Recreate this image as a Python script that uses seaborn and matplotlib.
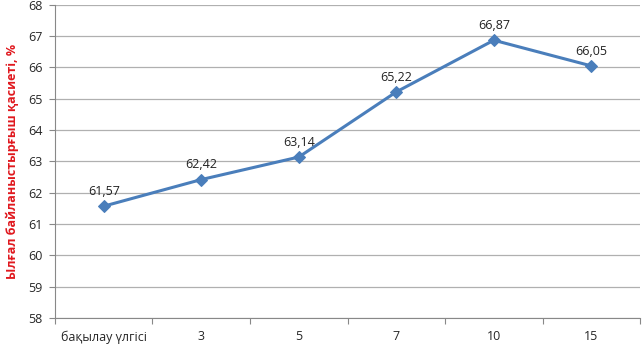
import matplotlib
matplotlib.use("Agg")
import matplotlib.pyplot as plt
import numpy as np
import pandas as pd
import seaborn as sns

sns.set_style("white")
plt.rcParams['font.family'] = ['Open Sans', 'DejaVu Sans']

categories = ["бақылау үлгісі", "3", "5", "7", "10", "15"]
values = [61.57, 62.42, 63.14, 65.22, 66.87, 66.05]
value_labels = ["61,57", "62,42", "63,14", "65,22", "66,87", "66,05"]
y_ticks = [58, 59, 60, 61, 62, 63, 64, 65, 66, 67, 68]

line_color = "#4a7ebb"

df = pd.DataFrame({"pos": np.arange(len(categories)), "value": values})

fig = plt.figure(figsize=(6.43, 3.46), dpi=100)
ax = fig.add_axes([0.0855, 0.081, 0.91, 0.905])

for y in y_ticks:
    ax.axhline(y, color="#b0b0b0", linewidth=0.9, zorder=0)

sns.lineplot(data=df, x="pos", y="value", ax=ax, color=line_color, linewidth=2.2,
             marker="D", markersize=6, markeredgecolor=line_color, zorder=3)

for x, y, lab in zip(df["pos"], values, value_labels):
    ax.annotate(lab, (x, y), xytext=(0, 6), textcoords="offset points",
                ha="center", va="bottom", fontsize=9, color="#222222")

ax.set_xlim(-0.5, len(categories) - 0.5)
ax.set_ylim(58, 68)
ax.set_yticks(y_ticks)
ax.set_xticks(np.arange(len(categories)))
ax.set_xticklabels(categories)
ax.set_xticks(np.arange(len(categories) + 1) - 0.5, minor=True)
ax.tick_params(axis="x", which="major", length=0, pad=9, labelsize=9)
ax.tick_params(axis="x", which="minor", length=4, direction="out", color="#888888", width=0.8)
ax.tick_params(axis="y", length=4, direction="out", color="#888888", width=0.8, labelsize=9, pad=5)
ax.yaxis.set_ticks_position("left")
ax.xaxis.set_ticks_position("bottom")

for side in ["top", "right"]:
    ax.spines[side].set_visible(False)
ax.spines["left"].set_color("#888888")
ax.spines["bottom"].set_color("#888888")
ax.spines["left"].set_linewidth(0.8)
ax.spines["bottom"].set_linewidth(0.8)

ax.set_xlabel("")
ax.set_ylabel("Ылғал байланыстырғыш қасиеті, %", color="#e0181e", fontweight="bold",
              fontsize=9)
ax.yaxis.set_label_coords(-0.062, 0.5)

fig.savefig("out.png", dpi=100)
